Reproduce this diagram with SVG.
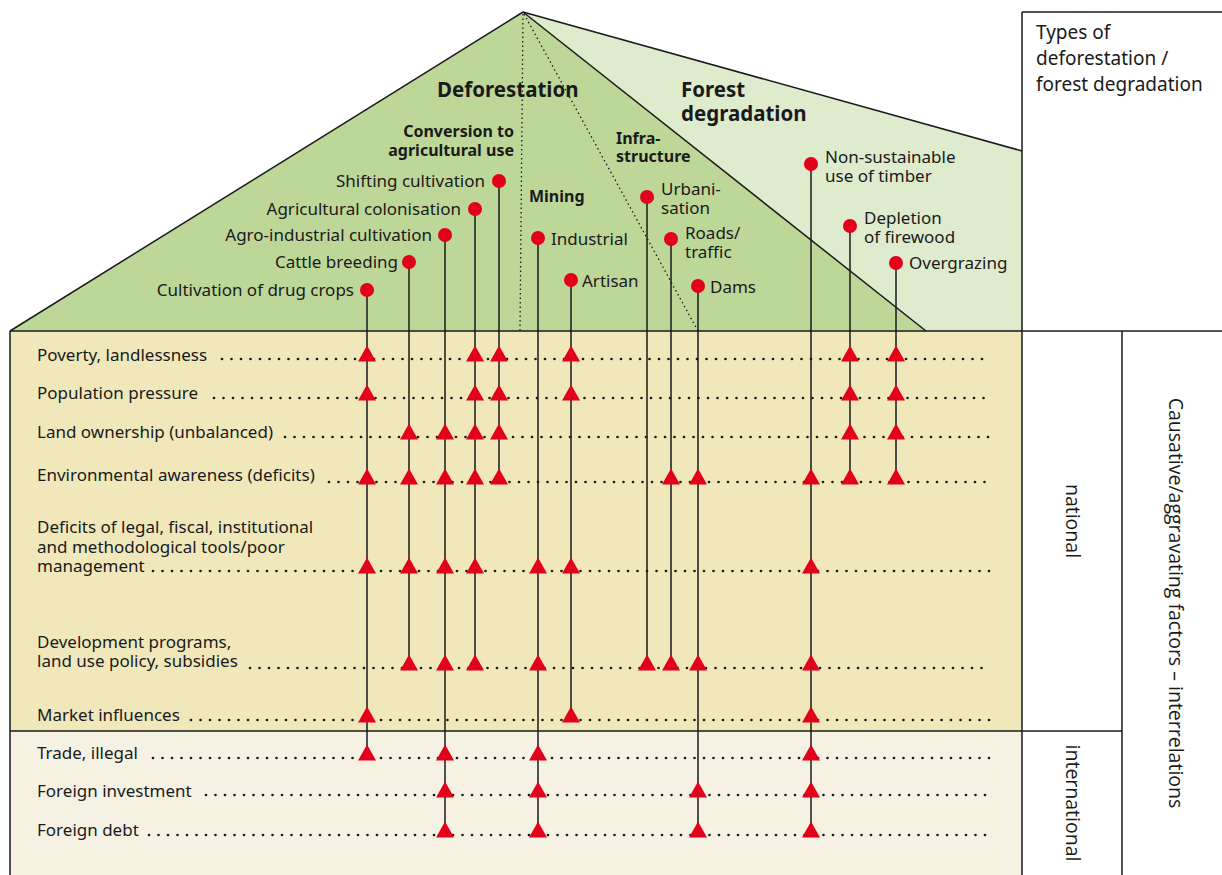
<svg xmlns="http://www.w3.org/2000/svg" xmlns:xlink="http://www.w3.org/1999/xlink" width="1222" height="875" viewBox="0 0 1222 875">
<style>
.lbl{font-family:"Noto Sans","Liberation Sans",sans-serif;font-size:17px;fill:#1a1a1a}
.hd{font-family:"Noto Sans","Liberation Sans",sans-serif;font-size:20.5px;font-weight:bold;fill:#1a1a1a}
.sub{font-family:"Noto Sans","Liberation Sans",sans-serif;font-size:16px;font-weight:bold;fill:#1a1a1a}
.box{font-family:"Noto Sans","Liberation Sans",sans-serif;font-size:19px;fill:#1a1a1a}
.rot{font-family:"Open Sans","Noto Sans",sans-serif;font-size:19.5px;fill:#1a1a1a}
.r{text-anchor:end}
.edge{stroke:#1a1a1a;stroke-width:1.5;fill:none}
.fine{stroke:#1a1a1a;stroke-width:1.3;stroke-dasharray:1.5 3;fill:none}
.row{stroke:#1a1a1a;stroke-width:2.7;stroke-linecap:round;stroke-dasharray:0 9.5;fill:none}
.vl{stroke:#1a1a1a;stroke-width:1.5;fill:none}
.dot{fill:#e3001b}
.tri{fill:#e3001b}
</style>
<defs>
<path id="tri" class="tri" d="M-9,2.5 L9,2.5 L0,-13.5 Z"/>
</defs>

<!-- backgrounds -->
<g id="background">
<rect x="10" y="331" width="1012" height="400" fill="#f0e8bb"/>
<rect x="10" y="731" width="1012" height="144" fill="#f5f2e4"/>
<polygon points="523,12 1022,151 1022,331 926,331" fill="#dfebcd"/>
<polygon points="523,12 10,331 926,331" fill="#bdd798"/>
<line class="edge" x1="523" y1="12" x2="1022" y2="151"/>
<line class="edge" x1="523" y1="12" x2="10" y2="331"/>
<line class="edge" x1="523" y1="12" x2="926" y2="331"/>
<line class="fine" x1="523" y1="14" x2="520" y2="331"/>
<line class="fine" x1="524" y1="14" x2="698" y2="331"/>
<line class="edge" x1="10" y1="331" x2="1222" y2="331"/>
<line class="edge" x1="10" y1="331" x2="10" y2="875"/>
<line class="edge" x1="1022" y1="12" x2="1022" y2="875"/>
<line class="edge" x1="1022" y1="12" x2="1222" y2="12"/>
<line class="edge" x1="1122" y1="331" x2="1122" y2="875"/>
<line class="edge" x1="10" y1="731" x2="1122" y2="731"/>
</g>

<g id="headings">
<text class="hd" x="437" y="97">Deforestation</text>
<text class="hd" x="681" y="97">Forest<tspan x="681" dy="24">degradation</tspan></text>
<text class="sub r" x="514" y="137">Conversion to<tspan x="514" dy="19">agricultural use</tspan></text>
<text class="sub" x="529" y="202">Mining</text>
<text class="sub" x="616" y="144">Infra-<tspan x="616" dy="18">structure</tspan></text>
</g>

<g id="types-box">
<text class="box" x="1036" y="39">Types of<tspan x="1036" dy="26">deforestation /</tspan><tspan x="1036" dy="26">forest degradation</tspan></text>
</g>

<g id="scale-labels">
<text class="rot" transform="translate(1066,521) rotate(90)" text-anchor="middle">national</text>
<text class="rot" transform="translate(1066,803) rotate(90)" text-anchor="middle">international</text>
<text class="rot" transform="translate(1169,603) rotate(90)" text-anchor="middle">Causative/aggravating factors – interrelations</text>
</g>

<!-- factor rows -->
<g id="row-poverty"><text class="lbl" x="37" y="361">Poverty, landlessness</text><line class="row" x1="222" y1="359" x2="990" y2="359"/></g>
<g id="row-population"><text class="lbl" x="37" y="399">Population pressure</text><line class="row" x1="214" y1="398" x2="990" y2="398"/></g>
<g id="row-land"><text class="lbl" x="37" y="438">Land ownership (unbalanced)</text><line class="row" x1="285" y1="437" x2="990" y2="437"/></g>
<g id="row-env"><text class="lbl" x="37" y="481">Environmental awareness (deficits)</text><line class="row" x1="329" y1="482" x2="990" y2="482"/></g>
<g id="row-deficits"><text class="lbl" x="37" y="533">Deficits of legal, fiscal, institutional<tspan x="37" dy="20">and methodological tools/poor</tspan><tspan x="37" dy="19">management</tspan></text><line class="row" x1="153" y1="571" x2="990" y2="571"/></g>
<g id="row-dev"><text class="lbl" x="37" y="648">Development programs,<tspan x="37" dy="19">land use policy, subsidies</tspan></text><line class="row" x1="250" y1="668" x2="990" y2="668"/></g>
<g id="row-market"><text class="lbl" x="37" y="721">Market influences</text><line class="row" x1="191" y1="720" x2="990" y2="720"/></g>
<g id="row-trade"><text class="lbl" x="37" y="759">Trade, illegal</text><line class="row" x1="153" y1="758" x2="990" y2="758"/></g>
<g id="row-finv"><text class="lbl" x="37" y="797">Foreign investment</text><line class="row" x1="206" y1="795" x2="990" y2="795"/></g>
<g id="row-fdebt"><text class="lbl" x="37" y="836">Foreign debt</text><line class="row" x1="149" y1="835" x2="990" y2="835"/></g>

<!-- connectors -->
<g id="connectors">
<line class="vl" x1="367" y1="290" x2="367" y2="758"/>
<line class="vl" x1="409" y1="262" x2="409" y2="668"/>
<line class="vl" x1="445" y1="235" x2="445" y2="835"/>
<line class="vl" x1="475" y1="209" x2="475" y2="668"/>
<line class="vl" x1="499" y1="181" x2="499" y2="482"/>
<line class="vl" x1="538" y1="238" x2="538" y2="835"/>
<line class="vl" x1="571" y1="280" x2="571" y2="720"/>
<line class="vl" x1="647" y1="197" x2="647" y2="668"/>
<line class="vl" x1="671" y1="239" x2="671" y2="668"/>
<line class="vl" x1="698" y1="286" x2="698" y2="835"/>
<line class="vl" x1="811" y1="164" x2="811" y2="835"/>
<line class="vl" x1="850" y1="226" x2="850" y2="482"/>
<line class="vl" x1="896" y1="263" x2="896" y2="482"/>
<!-- drug crops -->
<use xlink:href="#tri" x="367" y="359"/><use xlink:href="#tri" x="367" y="398"/><use xlink:href="#tri" x="367" y="482"/><use xlink:href="#tri" x="367" y="571"/><use xlink:href="#tri" x="367" y="720"/><use xlink:href="#tri" x="367" y="758"/>
<!-- cattle -->
<use xlink:href="#tri" x="409" y="437"/><use xlink:href="#tri" x="409" y="482"/><use xlink:href="#tri" x="409" y="571"/><use xlink:href="#tri" x="409" y="668"/>
<!-- agro-industrial -->
<use xlink:href="#tri" x="445" y="437"/><use xlink:href="#tri" x="445" y="482"/><use xlink:href="#tri" x="445" y="571"/><use xlink:href="#tri" x="445" y="668"/><use xlink:href="#tri" x="445" y="758"/><use xlink:href="#tri" x="445" y="795"/><use xlink:href="#tri" x="445" y="835"/>
<!-- colonisation -->
<use xlink:href="#tri" x="475" y="359"/><use xlink:href="#tri" x="475" y="398"/><use xlink:href="#tri" x="475" y="437"/><use xlink:href="#tri" x="475" y="482"/><use xlink:href="#tri" x="475" y="571"/><use xlink:href="#tri" x="475" y="668"/>
<!-- shifting -->
<use xlink:href="#tri" x="499" y="359"/><use xlink:href="#tri" x="499" y="398"/><use xlink:href="#tri" x="499" y="437"/><use xlink:href="#tri" x="499" y="482"/>
<!-- industrial -->
<use xlink:href="#tri" x="538" y="571"/><use xlink:href="#tri" x="538" y="668"/><use xlink:href="#tri" x="538" y="758"/><use xlink:href="#tri" x="538" y="795"/><use xlink:href="#tri" x="538" y="835"/>
<!-- artisan -->
<use xlink:href="#tri" x="571" y="359"/><use xlink:href="#tri" x="571" y="398"/><use xlink:href="#tri" x="571" y="571"/><use xlink:href="#tri" x="571" y="720"/>
<!-- urbanisation -->
<use xlink:href="#tri" x="647" y="668"/>
<!-- roads -->
<use xlink:href="#tri" x="671" y="482"/><use xlink:href="#tri" x="671" y="668"/>
<!-- dams -->
<use xlink:href="#tri" x="698" y="482"/><use xlink:href="#tri" x="698" y="668"/><use xlink:href="#tri" x="698" y="795"/><use xlink:href="#tri" x="698" y="835"/>
<!-- timber -->
<use xlink:href="#tri" x="811" y="482"/><use xlink:href="#tri" x="811" y="571"/><use xlink:href="#tri" x="811" y="668"/><use xlink:href="#tri" x="811" y="720"/><use xlink:href="#tri" x="811" y="758"/><use xlink:href="#tri" x="811" y="795"/><use xlink:href="#tri" x="811" y="835"/>
<!-- firewood -->
<use xlink:href="#tri" x="850" y="359"/><use xlink:href="#tri" x="850" y="398"/><use xlink:href="#tri" x="850" y="437"/><use xlink:href="#tri" x="850" y="482"/>
<!-- overgrazing -->
<use xlink:href="#tri" x="896" y="359"/><use xlink:href="#tri" x="896" y="398"/><use xlink:href="#tri" x="896" y="437"/><use xlink:href="#tri" x="896" y="482"/>
</g>

<!-- cause nodes -->
<g id="node-drug"><circle class="dot" cx="367" cy="290" r="7"/><text class="lbl r" x="354" y="296">Cultivation of drug crops</text></g>
<g id="node-cattle"><circle class="dot" cx="409" cy="262" r="7"/><text class="lbl r" x="398" y="268">Cattle breeding</text></g>
<g id="node-agro"><circle class="dot" cx="445" cy="235" r="7"/><text class="lbl r" x="432" y="241">Agro-industrial cultivation</text></g>
<g id="node-colonisation"><circle class="dot" cx="475" cy="209" r="7"/><text class="lbl r" x="461" y="215">Agricultural colonisation</text></g>
<g id="node-shifting"><circle class="dot" cx="499" cy="181" r="7"/><text class="lbl r" x="485" y="187">Shifting cultivation</text></g>
<g id="node-industrial"><circle class="dot" cx="538" cy="238" r="7"/><text class="lbl" x="551" y="245">Industrial</text></g>
<g id="node-artisan"><circle class="dot" cx="571" cy="280" r="7"/><text class="lbl" x="582" y="287">Artisan</text></g>
<g id="node-urban"><circle class="dot" cx="647" cy="197" r="7"/><text class="lbl" x="661" y="195">Urbani-<tspan x="661" dy="19">sation</tspan></text></g>
<g id="node-roads"><circle class="dot" cx="671" cy="239" r="7"/><text class="lbl" x="685" y="239">Roads/<tspan x="685" dy="19">traffic</tspan></text></g>
<g id="node-dams"><circle class="dot" cx="698" cy="286" r="7"/><text class="lbl" x="710" y="293">Dams</text></g>
<g id="node-timber"><circle class="dot" cx="811" cy="164" r="7"/><text class="lbl" x="825" y="163">Non-sustainable<tspan x="825" dy="19">use of timber</tspan></text></g>
<g id="node-firewood"><circle class="dot" cx="850" cy="226" r="7"/><text class="lbl" x="864" y="224">Depletion<tspan x="864" dy="19">of firewood</tspan></text></g>
<g id="node-overgrazing"><circle class="dot" cx="896" cy="263" r="7"/><text class="lbl" x="909" y="269">Overgrazing</text></g>
</svg>
